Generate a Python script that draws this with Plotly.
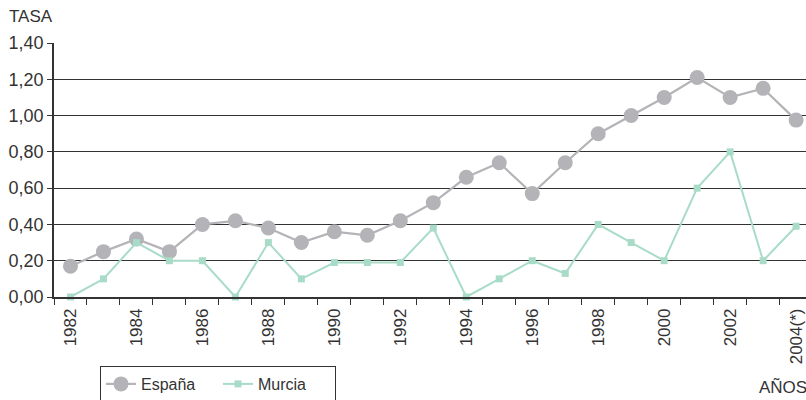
import plotly.graph_objects as go

years = [str(y) for y in range(1982, 2005)]
tick_labels = [y if int(y) % 2 == 0 else "" for y in years]
tick_labels[-1] = "2004(*)"
espana = [0.17, 0.25, 0.32, 0.25, 0.40, 0.42, 0.38, 0.30, 0.36, 0.34, 0.42, 0.52,
          0.66, 0.74, 0.57, 0.74, 0.90, 1.00, 1.10, 1.21, 1.10, 1.15, 0.975]
murcia = [0.00, 0.10, 0.30, 0.20, 0.20, 0.00, 0.30, 0.10, 0.19, 0.19, 0.19, 0.38,
          0.00, 0.10, 0.20, 0.13, 0.40, 0.30, 0.20, 0.60, 0.80, 0.20, 0.39]

FONT = "Liberation Sans, Arial, sans-serif"
L, T, B, W, H = 54, 43, 103, 806, 400
PW, PH = W - L, H - T - B


def px_x(px):
    return (px - L) / PW


def px_y(py):
    return (H - B - py) / PH


fig = go.Figure()
fig.add_trace(go.Scatter(
    x=years, y=espana, name="España", mode="lines+markers",
    line=dict(color="#b4b4b8", width=2.2),
    marker=dict(symbol="circle", size=15, color="#b4b4b8"),
    cliponaxis=False))
fig.add_trace(go.Scatter(
    x=years, y=murcia, name="Murcia", mode="lines+markers",
    line=dict(color="#a8dcc8", width=2),
    marker=dict(symbol="square", size=7, color="#a8dcc8"),
    cliponaxis=False))

fig.update_layout(
    width=W, height=H,
    margin=dict(l=L, r=0, t=T, b=B, autoexpand=False),
    paper_bgcolor="white", plot_bgcolor="white",
    font=dict(family=FONT, size=17, color="#333"),
    separators=",.",
    showlegend=True,
    legend=dict(orientation="h", x=px_x(100), y=px_y(366), xanchor="left", yanchor="top",
                bordercolor="#333", borderwidth=1, font=dict(size=16, color="#333"),
                itemwidth=30, entrywidth=72, traceorder="normal",
                tracegroupgap=0),
    xaxis=dict(type="category", range=[-0.5, 22.3], automargin=False,
               tickmode="array", tickvals=years, ticktext=tick_labels,
               tickangle=-90, tickson="boundaries", ticks="outside", ticklen=6,
               ticklabelstandoff=3,
               tickcolor="#333", showline=True, linecolor="#333", linewidth=1.5,
               showgrid=False, zeroline=False,
               tickfont=dict(size=17, color="#333")),
    yaxis=dict(range=[0, 1.4], tickvals=[0, 0.2, 0.4, 0.6, 0.8, 1.0, 1.2, 1.4],
               tickformat=".2f", showgrid=True, gridcolor="#333", gridwidth=1,
               showline=True, linecolor="#333", linewidth=1.5, ticks="outside",
               ticklen=5, tickcolor="#333", zeroline=False, automargin=False,
               tickfont=dict(size=18, color="#333")),
    annotations=[
        dict(text="TASA", x=px_x(7), y=px_y(17), xref="paper", yref="paper",
             xanchor="left", yanchor="middle", showarrow=False,
             font=dict(size=17, color="#333")),
        dict(text="AÑOS", x=1, y=px_y(387), xref="paper", yref="paper",
             xanchor="right", yanchor="middle", xshift=3, showarrow=False,
             font=dict(size=17, color="#333")),
    ],
)
fig.write_html("out.html", config={"displayModeBar": False},
               post_script="document.body.style.margin='0px';"
                           "document.body.style.overflow='hidden';")
